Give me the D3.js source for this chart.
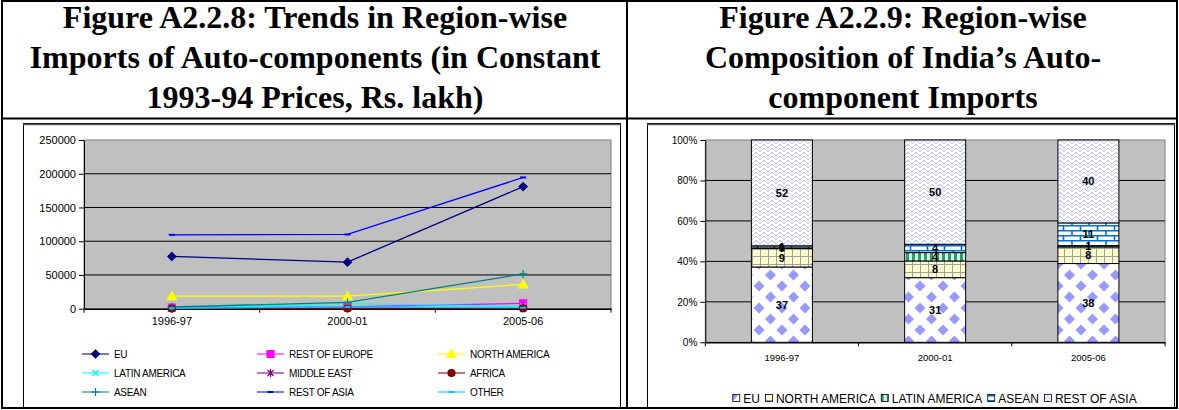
<!DOCTYPE html>
<html><head><meta charset="utf-8">
<script src="https://cdn.jsdelivr.net/npm/d3@7"></script>
<style>body{margin:0;background:#fff} svg{display:block}</style>
</head><body>
<svg id="c" width="1179" height="410"></svg>
<script>
// ---------------- DATA ----------------
const years = ["1996-97", "2000-01", "2005-06"];
const lineSeries = ["EU","REST OF EUROPE","NORTH AMERICA","LATIN AMERICA","MIDDLE EAST","AFRICA","ASEAN","REST OF ASIA","OTHER"];
const euImports           = [77500, 69000, 181000];
const restOfEuropeImports = [1500, 2800, 8000];
const northAmericaImports = [18500, 18500, 36000];
const latinAmericaImports = [800, 7500, 3500];
const middleEastImports   = [300, 600, 900];
const africaImports       = [200, 300, 400];
const aseanImports        = [2500, 9500, 51500];
const restOfAsiaImports   = [109500, 110000, 194500];
const otherImports        = [600, 2500, 1500];
const importTicks = [0, 50000, 100000, 150000, 200000, 250000];

const compSeries = ["EU","NORTH AMERICA","LATIN AMERICA","ASEAN","REST OF ASIA"];
const compEU    = [37, 31, 38];
const compNA    = [9, 8, 8];
const compLA    = [0.4, 4, 0.6];
const compASEAN = [1, 4, 11];
const compROA   = [52, 50, 40];
const pctTicks  = [0, 0.2, 0.4, 0.6, 0.8, 1];

const titleLeft  = ["Figure A2.2.8: Trends in Region-wise", "Imports of Auto-components (in Constant", "1993-94 Prices, Rs. lakh)"];
const titleRight = ["Figure A2.2.9: Region-wise", "Composition of India\u2019s Auto-", "component Imports"];

// ---------------- STYLE ----------------
const svg = d3.select("#c");
const SANS = "Arial, 'Liberation Sans', sans-serif";
const SERIF = "'Times New Roman', 'Liberation Serif', serif";

// outer table
svg.append("rect").attr("x",2).attr("y",1).attr("width",1175).attr("height",407)
  .attr("fill","none").attr("stroke","#000").attr("stroke-width",2);
svg.append("line").attr("x1",627).attr("x2",627).attr("y1",1).attr("y2",408).attr("stroke","#000").attr("stroke-width",2);
svg.append("line").attr("x1",2).attr("x2",1177).attr("y1",118.5).attr("y2",118.5).attr("stroke","#000").attr("stroke-width",2);

function title(lines, cx){
  lines.forEach((t,i)=>{
    svg.append("text").attr("x",cx).attr("y",28+i*40).attr("text-anchor","middle")
      .attr("font-family",SERIF).attr("font-weight","bold").attr("font-size",32).text(t);
  });
}
title(titleLeft, 315);
title(titleRight, 903);

// inner frames
[[23,123,597,284],[647,123,527,284]].forEach(([x,y,w,h])=>{
  svg.append("rect").attr("x",x+0.5).attr("y",y+0.5).attr("width",w).attr("height",h)
    .attr("fill","#fff").attr("stroke","#000").attr("stroke-width",1);
  svg.append("line").attr("x1",x).attr("x2",x+w+1).attr("y1",y+1.5).attr("y2",y+1.5).attr("stroke","#555").attr("stroke-width",1.5);
});

// ---------------- LEFT LINE CHART ----------------
const L = {x0:84, x1:611, y0:140, y1:308.7};
const xL = d3.scaleBand().domain(years).range([L.x0, L.x1]);
const yL = d3.scaleLinear().domain([0, 250000]).range([L.y1, L.y0]);
const gL = svg.append("g");
gL.append("rect").attr("x",L.x0).attr("y",L.y0).attr("width",L.x1-L.x0).attr("height",L.y1-L.y0)
  .attr("fill","#c0c0c0").attr("stroke","#808080").attr("stroke-width",1);
importTicks.filter(t=>t>0 && t<250000).forEach(t=>{
  gL.append("line").attr("x1",L.x0).attr("x2",L.x1).attr("y1",yL(t)).attr("y2",yL(t)).attr("stroke","#000").attr("stroke-width",1);
});
const yAxL = gL.append("g").attr("transform",`translate(${L.x0},0)`)
  .call(d3.axisLeft(yL).tickValues(importTicks).tickFormat(d3.format("d")).tickSize(5).tickSizeOuter(0).tickPadding(3));
yAxL.select(".domain").attr("stroke","#000");
yAxL.selectAll("text").attr("font-family",SANS).attr("font-size",11).attr("fill","#000");
const xAxL = gL.append("g").attr("transform",`translate(0,${L.y1})`)
  .call(d3.axisBottom(xL).tickSize(0).tickPadding(9));
xAxL.select(".domain").attr("stroke","#000").attr("stroke-width",1.5);
xAxL.selectAll("text").attr("font-family",SANS).attr("font-size",11).attr("fill","#000");
d3.range(years.length+1).forEach(i=>{
  const xx = L.x0 + i*xL.step();
  gL.append("line").attr("x1",xx).attr("x2",xx).attr("y1",L.y1).attr("y2",L.y1+4).attr("stroke","#000");
});

const lineData = [
  {name:"EU", vals:euImports, color:"#000080", marker:"diamond"},
  {name:"REST OF EUROPE", vals:restOfEuropeImports, color:"#ff00ff", marker:"square"},
  {name:"NORTH AMERICA", vals:northAmericaImports, color:"#ffff00", marker:"triangle"},
  {name:"LATIN AMERICA", vals:latinAmericaImports, color:"#00ffff", marker:"x"},
  {name:"MIDDLE EAST", vals:middleEastImports, color:"#800080", marker:"star"},
  {name:"AFRICA", vals:africaImports, color:"#800000", marker:"circle"},
  {name:"ASEAN", vals:aseanImports, color:"#008080", marker:"plus"},
  {name:"REST OF ASIA", vals:restOfAsiaImports, color:"#0000ff", marker:"dash"},
  {name:"OTHER", vals:otherImports, color:"#00ccff", marker:"dash"}
];
const markerDefs = {
  diamond: {d:"M0,-4L4,0L0,4L-4,0Z", fill:true},
  square: {d:"M-3.5,-3.5h7v7h-7z", fill:true},
  triangle: {d:"M0,-4.5L4.5,3.5L-4.5,3.5Z", fill:true},
  x: {d:"M-3,-3L3,3M3,-3L-3,3", fill:false},
  star: {d:"M-3,-3L3,3M3,-3L-3,3M0,-4V4", fill:false},
  circle: {d:"M3.5,0A3.5,3.5 0 1,1 -3.5,0A3.5,3.5 0 1,1 3.5,0Z", fill:true},
  plus: {d:"M-4,0H4M0,-4V4", fill:false},
  dash: {d:"M-3,0H3", fill:false, w:2}
};
function drawMarker(g, m, color, x, y){
  const md = markerDefs[m];
  g.append("path").attr("d",md.d).attr("transform",`translate(${x},${y})`)
    .attr("fill", md.fill ? color : "none").attr("stroke",color).attr("stroke-width", md.w || 1.2);
}
const lineGen = d3.line().x((d,i)=>xL(years[i]) + xL.bandwidth()/2).y(d=>yL(d));
lineData.forEach(s=>{
  gL.append("path").attr("d",lineGen(s.vals)).attr("fill","none").attr("stroke",s.color).attr("stroke-width",1.3);
});
lineData.forEach(s=>{
  s.vals.forEach((v,i)=> drawMarker(gL, s.marker, s.color, xL(years[i])+xL.bandwidth()/2, yL(v)));
});
// legend
const legCols = [82, 257, 438], legRows = [354, 373, 392];
lineData.forEach((s,i)=>{
  const cx = legCols[i%3], cy = legRows[Math.floor(i/3)];
  gL.append("line").attr("x1",cx).attr("x2",cx+27).attr("y1",cy).attr("y2",cy).attr("stroke",s.color).attr("stroke-width",1.3).attr("opacity",0.8);
  drawMarker(gL, s.marker, s.color, cx+13.5, cy);
  gL.append("text").attr("x",cx+32).attr("y",cy+3.5).attr("font-family",SANS).attr("font-size",10)
    .attr("letter-spacing",-0.3).text(s.name);
});

// ---------------- RIGHT STACKED CHART ----------------
const defs = svg.append("defs");
function pat(id,w,h,build){
  const p = defs.append("pattern").attr("id",id).attr("patternUnits","userSpaceOnUse").attr("width",w).attr("height",h);
  build(p); return `url(#${id})`;
}
const fills = {
  "EU": pat("pEU",23,22,p=>{
    p.append("rect").attr("width",23).attr("height",22).attr("fill","#fff");
    p.append("path").attr("fill","#9999ff").attr("d",
      "M11.5,5.5L17,11L11.5,16.5L6,11Z M0,-5.5L5.5,0L0,5.5L-5.5,0Z M23,-5.5L28.5,0L23,5.5L17.5,0Z M0,16.5L5.5,22L0,27.5L-5.5,22Z M23,16.5L28.5,22L23,27.5L17.5,22Z");
  }),
  "NORTH AMERICA": pat("pNA",8,8,p=>{
    p.append("rect").attr("width",8).attr("height",8).attr("fill","#ffffcc");
    p.append("path").attr("d","M0,0.5H8M0.5,0V8").attr("stroke","#a0a0a0").attr("stroke-width",1);
  }),
  "LATIN AMERICA": pat("pLA",6,6,p=>{
    p.append("rect").attr("width",6).attr("height",6).attr("fill","#ccffee");
    p.append("rect").attr("width",3).attr("height",6).attr("fill","#339966");
  }),
  "ASEAN": pat("pAS",17,10,p=>{
    p.append("rect").attr("width",17).attr("height",10).attr("fill","#fff");
    p.append("path").attr("d","M0,0.75H17M0,5.75H17M1,0V5M9.5,5V10").attr("stroke","#0070d0").attr("stroke-width",1.6);
  }),
  "REST OF ASIA": pat("pROA",8,8,p=>{
    p.append("rect").attr("width",8).attr("height",8).attr("fill","#fff");
    p.append("path").attr("d","M0,4L4,0L8,4M0,8L4,4L8,8M4,0V2M0,4V6M8,4V6").attr("fill","none").attr("stroke","#c4c4ff").attr("stroke-width",1);
  })
};

const R = {x0:705.3, x1:1165, y0:140, y1:342.3};
const xR = d3.scaleBand().domain(years).range([R.x0, R.x1]).paddingInner(0.6).paddingOuter(0.3);
const xRb = d3.scaleBand().domain(years).range([R.x0, R.x1]);
const yR = d3.scaleLinear().domain([0,1]).range([R.y1, R.y0]);
const gR = svg.append("g");
gR.append("rect").attr("x",R.x0).attr("y",R.y0).attr("width",R.x1-R.x0).attr("height",R.y1-R.y0)
  .attr("fill","#c0c0c0").attr("stroke","#808080").attr("stroke-width",1);
pctTicks.filter(t=>t>0 && t<1).forEach(t=>{
  gR.append("line").attr("x1",R.x0).attr("x2",R.x1).attr("y1",yR(t)).attr("y2",yR(t)).attr("stroke","#000").attr("stroke-width",1);
});
const yAxR = gR.append("g").attr("transform",`translate(${R.x0},0)`)
  .call(d3.axisLeft(yR).tickValues(pctTicks).tickFormat(d3.format(".0%")).tickSize(5).tickSizeOuter(0).tickPadding(3));
yAxR.select(".domain").attr("stroke","#000");
yAxR.selectAll("text").attr("font-family",SANS).attr("font-size",10).attr("fill","#000");
const xAxR = gR.append("g").attr("transform",`translate(0,${R.y1})`)
  .call(d3.axisBottom(xRb).tickSize(0).tickPadding(12));
xAxR.select(".domain").attr("stroke","#000").attr("stroke-width",1.5);
xAxR.selectAll("text").attr("font-family",SANS).attr("font-size",9.5).attr("fill","#000");
d3.range(years.length+1).forEach(i=>{
  const xx = R.x0 + i*xRb.step();
  gR.append("line").attr("x1",xx).attr("x2",xx).attr("y1",R.y1).attr("y2",R.y1+4).attr("stroke","#000");
});

const compRows = years.map((y,i)=>({year:y, "EU":compEU[i], "NORTH AMERICA":compNA[i], "LATIN AMERICA":compLA[i], "ASEAN":compASEAN[i], "REST OF ASIA":compROA[i]}));
const stacked = d3.stack().keys(compSeries).offset(d3.stackOffsetExpand)(compRows);
const barW = 61;
stacked.forEach(layer=>{
  layer.forEach(d=>{
    const cx = xRb(d.data.year) + xRb.bandwidth()/2;
    gR.append("rect").attr("x",cx-barW/2).attr("y",yR(d[1])).attr("width",barW).attr("height",Math.max(0,yR(d[0])-yR(d[1])))
      .attr("fill",fills[layer.key]).attr("stroke","#000").attr("stroke-width",1);
  });
});
stacked.forEach(layer=>{
  layer.forEach(d=>{
    const cx = xRb(d.data.year) + xRb.bandwidth()/2;
    gR.append("text").attr("x",cx).attr("y",(yR(d[0])+yR(d[1]))/2+4).attr("text-anchor","middle")
      .attr("font-family",SANS).attr("font-weight","bold").attr("font-size",11).text(d3.format(".0f")(d.data[layer.key]));
  });
});
// legend
const legY = 399;
const lg = gR.append("g");
let lx = 0;
compSeries.forEach(k=>{
  const it = lg.append("g").attr("transform",`translate(${lx},0)`);
  it.append("rect").attr("x",0.5).attr("y",legY-4.5).attr("width",7).attr("height",7).attr("fill",fills[k]).attr("stroke","#000").attr("stroke-width",0.8);
  const t = it.append("text").attr("x",11).attr("y",legY+4).attr("font-family",SANS).attr("font-size",12).text(k);
  lx += 11 + t.node().getComputedTextLength() + 5;
});
lg.attr("transform",`translate(${(724+1145)/2 - (lx-5)/2},0)`);
</script>
</body></html>
